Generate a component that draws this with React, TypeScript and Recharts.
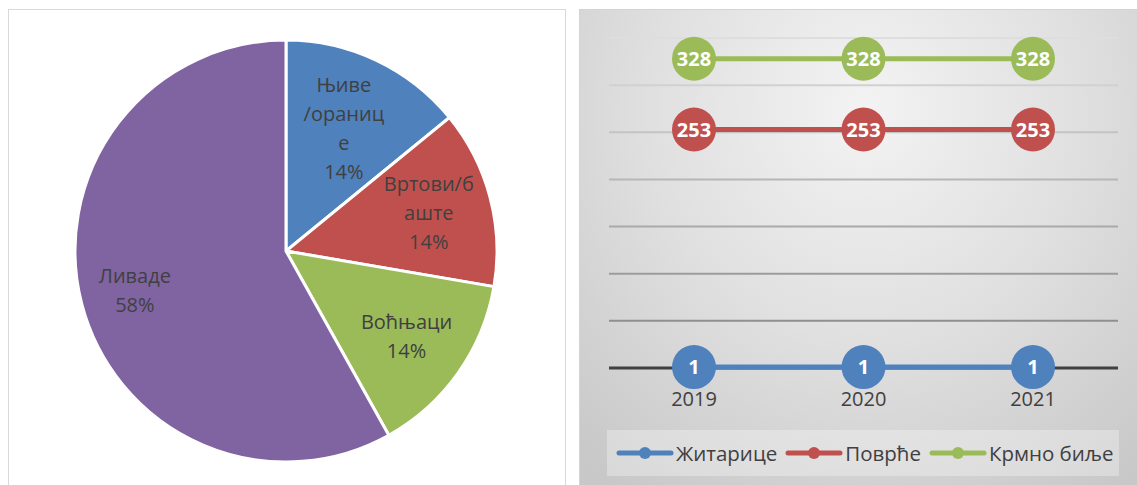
import { CartesianGrid, LabelList, Line, LineChart, Pie, PieChart, Cell, XAxis, YAxis } from "recharts";

// pie: land use shares
const landNames = ["Њиве /оранице", "Вртови/баште", "Воћњаци", "Ливаде"];
const landLabelLines = [["Њиве", "/ораниц", "е"], ["Вртови/б", "аште"], ["Воћњаци"], ["Ливаде"]];
const landValues = [14.1, 13.6, 14.2, 58.1];
const landColors = ["#4f81bd", "#c0504d", "#9bbb59", "#8064a2"];

// line chart: crops per year
const years = ["2019", "2020", "2021"];
const zitarice = [1, 1, 1];
const povrce = [253, 253, 253];
const krmnoBilje = [328, 328, 328];
const seriesNames = ["Житарице", "Поврће", "Крмно биље"];
const seriesColors = ["#4f81bd", "#c0504d", "#9bbb59"];
const yTicks = [0, 50, 100, 150, 200, 250, 300, 350];

const FONT = "'Open Sans', sans-serif";
const RAD = Math.PI / 180;
// how far out (share of radius) each slice label sits, like Excel's best fit
const LABEL_RADIUS = [0.64, 0.7, 0.7, 0.74];

const pieData = landNames.map((name, i) => ({ name, value: landValues[i] }));
const lineData = years.map((year, i) => ({
  year,
  s0: zitarice[i],
  s1: povrce[i],
  s2: krmnoBilje[i],
}));

function PieLabel(props: any) {
  const { cx, cy, midAngle, outerRadius, percent, index } = props;
  const r = outerRadius * LABEL_RADIUS[index];
  const x = cx + r * Math.cos(-midAngle * RAD);
  const y = cy + r * Math.sin(-midAngle * RAD);
  const lines = [...landLabelLines[index], `${Math.round(percent * 100)}%`];
  const lh = 29;
  const y0 = y - ((lines.length - 1) * lh) / 2 + 7;
  return (
    <text x={x} y={y0} textAnchor="middle" fill="#404040" fontSize={20} fontFamily={FONT}>
      {lines.map((l, i) => (
        <tspan key={i} x={x} dy={i === 0 ? 0 : lh}>
          {l}
        </tspan>
      ))}
    </text>
  );
}

function LegendIcon({ color }: { color: string }) {
  return (
    <svg width={58} height={14} style={{ display: "block" }}>
      <line x1={3} y1={7} x2={55} y2={7} stroke={color} strokeWidth={5} strokeLinecap="round" />
      <circle cx={29} cy={7} r={6} fill={color} />
    </svg>
  );
}

export default function App() {
  return (
    <div
      style={{
        position: "absolute",
        left: 0,
        top: 0,
        width: 1137,
        height: 485,
        overflow: "hidden",
        background: "#fff",
        fontFamily: FONT,
      }}
    >
      {/* left panel: pie */}
      <div
        style={{
          position: "absolute",
          left: 8,
          top: 9,
          width: 556,
          height: 490,
          border: "1px solid #d9d9d9",
          background: "#fff",
        }}
      >
        <PieChart width={556} height={476} margin={{ top: 0, right: 0, bottom: 0, left: 0 }}>
          <Pie
            data={pieData}
            dataKey="value"
            nameKey="name"
            cx={277}
            cy={241}
            outerRadius={211}
            startAngle={90}
            endAngle={-270}
            stroke="#fff"
            strokeWidth={3}
            label={PieLabel}
            labelLine={false}
            isAnimationActive={false}
          >
            {pieData.map((d, i) => (
              <Cell key={d.name} fill={landColors[i]} />
            ))}
          </Pie>
        </PieChart>
      </div>

      {/* right panel: lines */}
      <div
        style={{
          position: "absolute",
          left: 579,
          top: 9,
          width: 570,
          height: 490,
          border: "1px solid #d4d4d4",
          background:
            "radial-gradient(ellipse 75% 95% at 50% 20%, #f3f3f3 0%, #e0e0e0 50%, #c8c8c8 100%)",
        }}
      >
        <LineChart width={557} height={420} data={lineData} margin={{ top: 28, right: 19, left: 29, bottom: 22 }}>
          <defs>
            <linearGradient id="gridFade" gradientUnits="userSpaceOnUse" x1={0} y1={28} x2={0} y2={358}>
              <stop offset="0%" stopColor="#dedede" />
              <stop offset="100%" stopColor="#828282" />
            </linearGradient>
          </defs>
          <CartesianGrid vertical={false} stroke="url(#gridFade)" strokeWidth={2} />
          {/* zero line under the series */}
          <CartesianGrid vertical={false} horizontalValues={[0]} stroke="#404040" strokeWidth={3} />
          <YAxis hide width={0} domain={[0, 350]} ticks={yTicks} />
          <XAxis
            dataKey="year"
            height={40}
            padding={{ left: 85, right: 85 }}
            tickLine={false}
            tickMargin={18}
            axisLine={false}
            tick={{ fontSize: 20, fill: "#404040", fontFamily: FONT }}
          />
          {seriesNames.map((name, i) => (
            <Line
              key={name}
              name={name}
              dataKey={`s${i}`}
              stroke={seriesColors[i]}
              strokeWidth={5}
              dot={{ r: 22, fill: seriesColors[i], stroke: "none", strokeWidth: 0 }}
              activeDot={false}
              isAnimationActive={false}
            >
              <LabelList
                dataKey={`s${i}`}
                position="center"
                fill="#fff"
                fontSize={20}
                fontWeight="bold"
                fontFamily={FONT}
              />
            </Line>
          ))}
        </LineChart>

        <div
          style={{
            position: "absolute",
            left: 27,
            top: 420,
            width: 512,
            height: 46,
            background: "rgba(255,255,255,0.3)",
            display: "flex",
            alignItems: "center",
            paddingLeft: 9,
            boxSizing: "border-box",
            color: "#404040",
            fontSize: 20.5,
            whiteSpace: "nowrap",
          }}
        >
          {seriesNames.map((name, i) => (
            <div key={name} style={{ display: "flex", alignItems: "center", marginRight: 8 }}>
              <LegendIcon color={seriesColors[i]} />
              <span style={{ marginLeft: 2 }}>{name}</span>
            </div>
          ))}
        </div>
      </div>
    </div>
  );
}
